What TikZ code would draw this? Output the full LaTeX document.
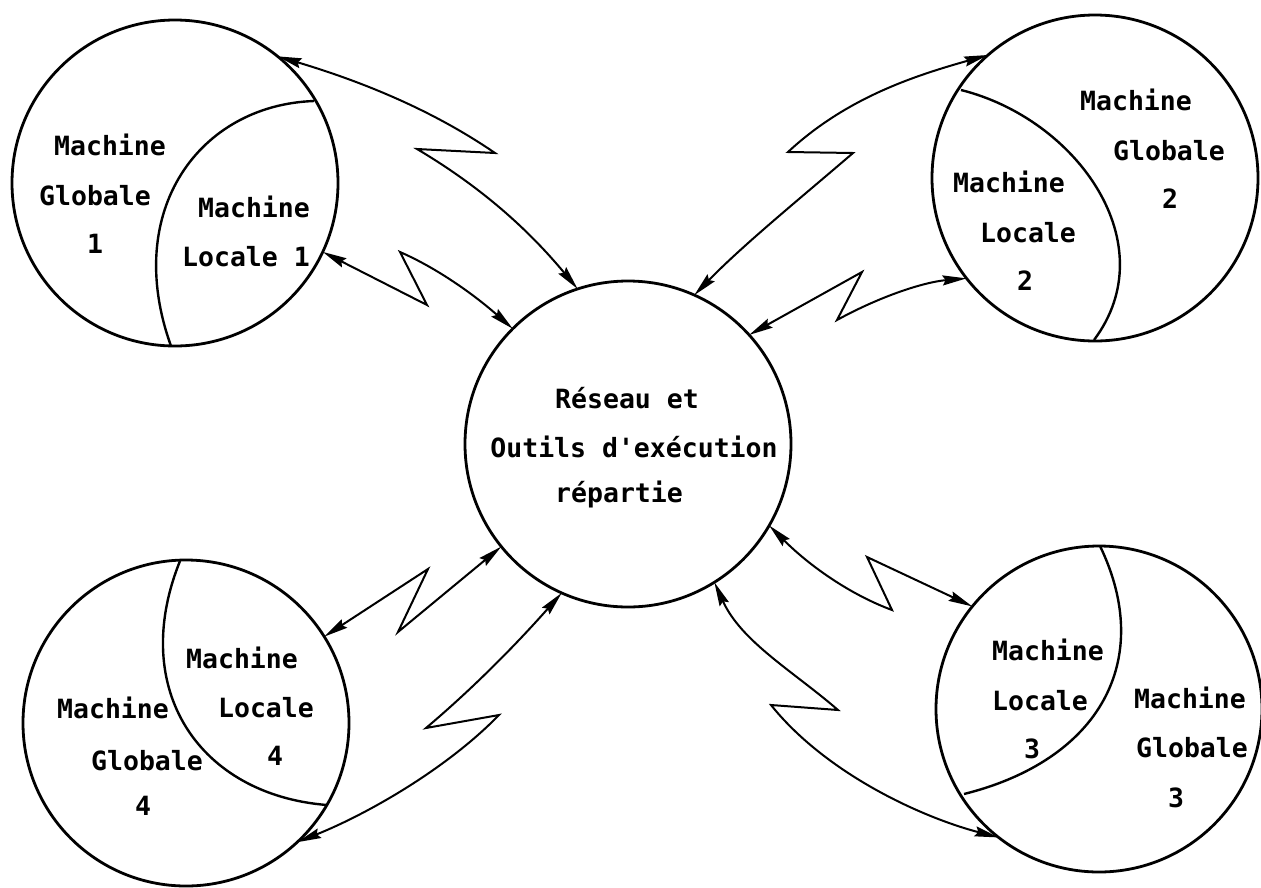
\documentclass[tikz,border=0pt]{standalone}
\usepackage{fontspec}
\newfontfamily\diagfont{DejaVu Sans Mono Bold}
\usetikzlibrary{arrows.meta}
\begin{document}
\begin{tikzpicture}[x=1pt,y=-1pt,
  machine/.style={circle,draw,line width=2.8pt,minimum size=326pt,inner sep=0pt,outer sep=0pt},
  lbl/.style={anchor=base,inner sep=0pt,font=\diagfont\fontsize{26.5}{30}\selectfont},
  link/.style={line width=2pt,line join=miter,
    {Stealth[length=24pt,width=10pt,inset=3pt]}-{Stealth[length=24pt,width=10pt,inset=3pt]}},
  divider/.style={line width=2.4pt}]
\useasboundingbox (0,0) rectangle (1261,887);

% circles
\node[machine] (c0) at (628,444) {};
\node[machine] (c1) at (175,183) {};
\node[machine] (c2) at (1095,178) {};
\node[machine] (c3) at (1099,709) {};
\node[machine] (c4) at (186,723) {};

% dividing arcs
\draw[divider] (314,101) .. controls (200,105) and (122,210) .. (171,346);
\draw[divider] (961,90) .. controls (1077,119) and (1166,244) .. (1094,340);
\draw[divider] (1100,546) .. controls (1155,660) and (1100,760) .. (964,794);
\draw[divider] (180,561) .. controls (128,690) and (200,795) .. (327,805);

% texts
\node[lbl] (g1a) at (110,155) {Machine};
\node[lbl] (g1b) at (95,205) {Globale};
\node[lbl] (g1c) at (95,253) {1};
\node[lbl] (l1a) at (254,217) {Machine};
\node[lbl] (l1b) at (246,266) {Locale 1};

\node[lbl] (g2a) at (1136,110) {Machine};
\node[lbl] (g2b) at (1169,160) {Globale};
\node[lbl] (g2c) at (1170,208) {2};
\node[lbl] (l2a) at (1009,192) {Machine};
\node[lbl] (l2b) at (1028,242) {Locale};
\node[lbl] (l2c) at (1025,290) {2};

\node[lbl] (l3a) at (1048,660) {Machine};
\node[lbl] (l3b) at (1040,710) {Locale};
\node[lbl] (l3c) at (1032,758) {3};
\node[lbl] (g3a) at (1190,708) {Machine};
\node[lbl] (g3b) at (1192,757) {Globale};
\node[lbl] (g3c) at (1176,807) {3};

\node[lbl] (l4a) at (242,668) {Machine};
\node[lbl] (l4b) at (266,717) {Locale};
\node[lbl] (l4c) at (275,765) {4};
\node[lbl] (g4a) at (113,718) {Machine};
\node[lbl] (g4b) at (147,770) {Globale};
\node[lbl] (g4c) at (143,815) {4};

\node[lbl] (t0a) at (627,408) {Réseau et};
\node[lbl] (t0b) at (634,457) {Outils d'exécution};
\node[lbl] (t0c) at (619,502) {répartie};

% zigzag vertices
\coordinate (a1r) at (495,153); \coordinate (a1l) at (417,149);
\coordinate (b1d) at (427,305); \coordinate (b1u) at (400,252);
\coordinate (a2l) at (788,152); \coordinate (a2r) at (853,153);
\coordinate (b2d) at (837,320); \coordinate (b2u) at (862,272);
\coordinate (b4u) at (428,569); \coordinate (b4d) at (398,632);
\coordinate (a4r) at (499,715); \coordinate (a4l) at (426,728);
\coordinate (b3d) at (892,610); \coordinate (b3u) at (867,557);
\coordinate (a3r) at (838,710); \coordinate (a3l) at (771,705);

% connectors
\draw[link] (c1.51.9) .. controls (352.7,78.8) and (426.8,106.2) .. (a1r) -- (a1l) .. controls (479.3,186) and (526.7,227.5) .. (c0.108);
\draw[link] (c1.-25.9) -- (b1d) -- (b1u) .. controls (436.7,268) and (473.3,294) .. (c0.135.5);
\draw[link] (c2.131.3) .. controls (916.2,75.3) and (846.8,97.2) .. (a2l) -- (a2r) .. controls (799.7,198.8) and (743.3,244.7) .. (c0.66.4);
\draw[link] (c2.218.2) .. controls (924.3,282) and (880.7,296) .. (b2d) -- (b2u) -- (c0.42.3);
\draw[link] (c4.32.4) -- (b4u) -- (b4d) -- (c0.219.4);
\draw[link] (c4.313.8) .. controls (369.3,813.2) and (447.7,767.8) .. (a4r) -- (a4l) .. controls (474.3,687.3) and (518.2,642.2) .. (c0.246.7);
\draw[link] (c0.-30.6) .. controls (810.7,567) and (851.3,595) .. (b3d) -- (b3u) -- (c3.141.5);
\draw[link] (c0.-58.9) .. controls (741.2,641.7) and (793.3,671.3) .. (a3r) -- (a3l) .. controls (825.5,773) and (920.5,817) .. (c3.232.8);
\end{tikzpicture}
\end{document}
